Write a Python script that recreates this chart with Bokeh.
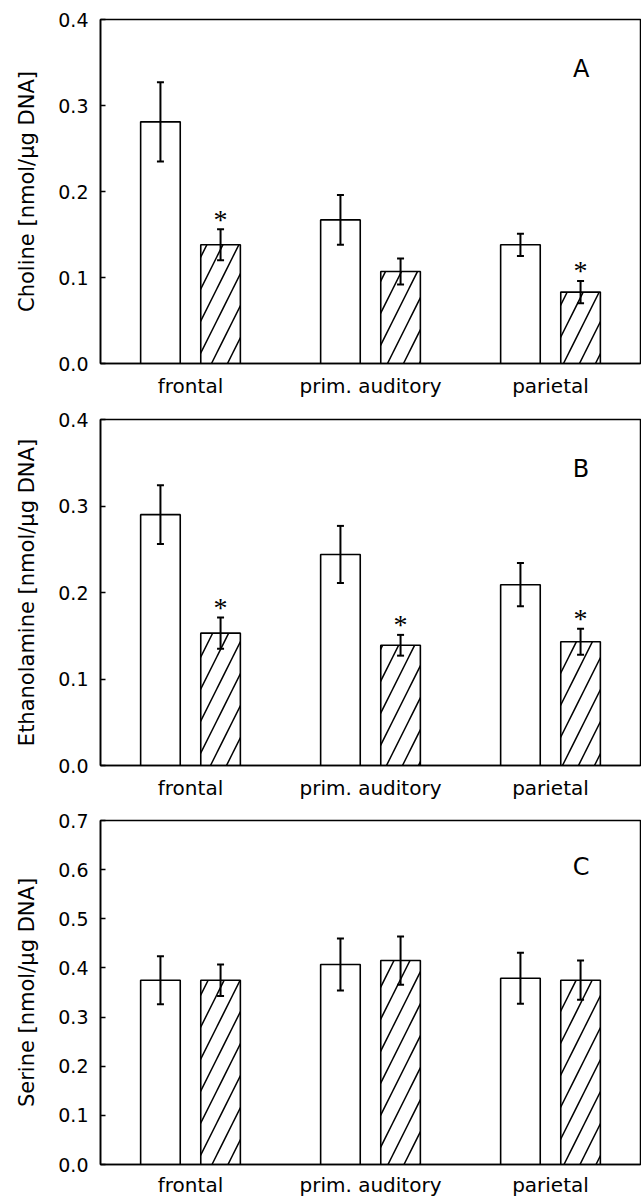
from bokeh.plotting import figure
from bokeh.layouts import column
from bokeh.models import (Range1d, FixedTicker, PrintfTickFormatter, ColumnDataSource,
                          Whisker, TeeHead, Label)
from bokeh.embed import file_html
from bokeh.resources import INLINE

# ---------------- data ----------------
categories = ["frontal", "prim. auditory", "parietal"]

choline_ctrl = [0.281, 0.167, 0.138]
choline_ctrl_err = [0.046, 0.029, 0.013]
choline_trt = [0.138, 0.107, 0.083]
choline_trt_err = [0.018, 0.015, 0.013]
choline_sig = [True, False, True]

ethanol_ctrl = [0.290, 0.244, 0.209]
ethanol_ctrl_err = [0.034, 0.033, 0.025]
ethanol_trt = [0.153, 0.139, 0.143]
ethanol_trt_err = [0.018, 0.012, 0.015]
ethanol_sig = [True, True, True]

serine_ctrl = [0.375, 0.407, 0.379]
serine_ctrl_err = [0.049, 0.053, 0.052]
serine_trt = [0.375, 0.415, 0.375]
serine_trt_err = [0.032, 0.049, 0.040]
serine_sig = [False, False, False]

choline_yticks = [0.0, 0.1, 0.2, 0.3, 0.4]
ethanol_yticks = [0.0, 0.1, 0.2, 0.3, 0.4]
serine_yticks = [0.0, 0.1, 0.2, 0.3, 0.4, 0.5, 0.6, 0.7]

FONT = "DejaVu Sans"
OFF = 0.167
BW = 0.22


def panel(ylabel, ctrl, ctrl_err, trt, trt_err, sig, yticks, letter, letter_y,
          height, btop, bbottom, xstandoff):
    p = figure(width=641, height=height, output_backend="svg", toolbar_location=None,
               x_range=Range1d(-0.5, 2.5), y_range=Range1d(yticks[0], yticks[-1]),
               min_border_left=100, min_border_right=1, min_border_top=btop,
               min_border_bottom=bbottom, background_fill_color="white",
               border_fill_color="white", outline_line_color="black",
               outline_line_width=1.5)
    p.xgrid.visible = False
    p.ygrid.visible = False
    n = len(categories)
    xc = [i - OFF for i in range(n)]
    xt = [i + OFF for i in range(n)]
    p.vbar(x=xc, top=ctrl, width=BW, bottom=0, fill_color="white",
           line_color="black", line_width=1.6)
    p.vbar(x=xt, top=trt, width=BW, bottom=0, fill_color="white",
           line_color="black", line_width=1.6, hatch_pattern="/",
           hatch_scale=32, hatch_weight=1.5, hatch_color="black")
    src = ColumnDataSource(dict(
        x=xc + xt,
        upper=[v + e for v, e in zip(ctrl, ctrl_err)] + [v + e for v, e in zip(trt, trt_err)],
        lower=[v - e for v, e in zip(ctrl, ctrl_err)] + [v - e for v, e in zip(trt, trt_err)],
    ))
    w = Whisker(source=src, base="x", upper="upper", lower="lower",
                line_color="black", line_width=2, level="overlay",
                upper_head=TeeHead(size=7, line_width=2, line_color="black"),
                lower_head=TeeHead(size=7, line_width=2, line_color="black"))
    p.add_layout(w)
    sx = [xt[i] for i in range(n) if sig[i]]
    sy = [trt[i] + trt_err[i] for i in range(n) if sig[i]]
    if sx:
        p.text(x=sx, y=sy, text=["*"] * len(sx), text_align="center",
               text_baseline="middle", y_offset=-10, text_font_size="28px",
               text_font=FONT, text_color="black")
    p.add_layout(Label(x=2.17, y=letter_y, text=letter, text_align="center",
                       text_baseline="middle", text_font_size="24px",
                       text_font=FONT, text_color="black"))

    xa = p.xaxis[0]
    xa.ticker = FixedTicker(ticks=list(range(n)))
    xa.major_label_overrides = {i: c for i, c in enumerate(categories)}
    xa.major_tick_line_color = None
    xa.major_tick_in = 0
    xa.major_tick_out = 0
    xa.minor_tick_line_color = None
    xa.minor_tick_in = 0
    xa.minor_tick_out = 0
    xa.major_label_standoff = xstandoff
    xa.axis_line_width = 1.6
    xa.axis_line_color = "black"
    xa.major_label_text_font = FONT
    xa.major_label_text_font_size = "20px"
    xa.major_label_text_color = "black"

    ya = p.yaxis[0]
    ya.ticker = FixedTicker(ticks=yticks)
    ya.formatter = PrintfTickFormatter(format="%.1f")
    ya.major_tick_in = 5
    ya.major_tick_out = 0
    ya.major_tick_line_width = 1.5
    ya.minor_tick_line_color = None
    ya.minor_tick_in = 0
    ya.minor_tick_out = 0
    ya.axis_line_width = 1.6
    ya.axis_line_color = "black"
    ya.major_label_standoff = 12
    ya.major_label_text_font = FONT
    ya.major_label_text_font_size = "19px"
    ya.major_label_text_color = "black"
    ya.axis_label = ylabel
    ya.axis_label_standoff = 16
    ya.axis_label_text_font = FONT
    ya.axis_label_text_font_size = "21px"
    ya.axis_label_text_font_style = "normal"
    ya.axis_label_text_color = "black"
    return p


pA = panel("Choline [nmol/\u03bcg DNA]", choline_ctrl, choline_ctrl_err, choline_trt,
           choline_trt_err, choline_sig, choline_yticks, "A", 0.343, 400, 19, 37, 10)
pB = panel("Ethanolamine [nmol/\u03bcg DNA]", ethanol_ctrl, ethanol_ctrl_err, ethanol_trt,
           ethanol_trt_err, ethanol_sig, ethanol_yticks, "B", 0.343, 402, 19, 37, 10)
pC = panel("Serine [nmol/\u03bcg DNA]", serine_ctrl, serine_ctrl_err, serine_trt,
           serine_trt_err, serine_sig, serine_yticks, "C", 0.605, 397, 18, 35, 8)

layout = column(pA, pB, pC, spacing=0)
open("out.html", "w").write(file_html(layout, INLINE))
